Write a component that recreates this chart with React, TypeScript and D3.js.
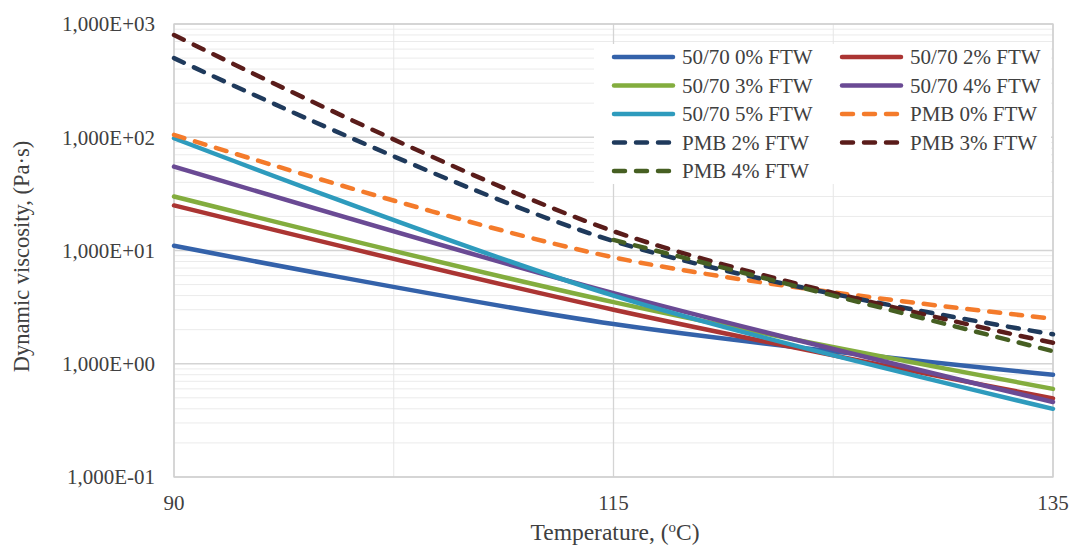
import React from "react";
import * as d3 from "d3";

const temperatures = ["90", "115", "135"];
const seriesNames = [
  "50/70 0% FTW",
  "50/70 2% FTW",
  "50/70 3% FTW",
  "50/70 4% FTW",
  "50/70 5% FTW",
  "PMB 0% FTW",
  "PMB 2% FTW",
  "PMB 3% FTW",
  "PMB 4% FTW",
];
const b0: (number | null)[] = [11, 2.24, 0.8];
const b2: (number | null)[] = [25, 3.0, 0.495];
const b3: (number | null)[] = [30, 3.5, 0.6];
const b4: (number | null)[] = [55, 4.2, 0.46];
const b5: (number | null)[] = [98, 4.0, 0.4];
const p0: (number | null)[] = [105, 8.7, 2.5];
const p2: (number | null)[] = [500, 12.1, 1.82];
const p3: (number | null)[] = [800, 14.8, 1.53];
const p4: (number | null)[] = [null, 12.4, 1.29];
const seriesValues = [b0, b2, b3, b4, b5, p0, p2, p3, p4];
const seriesColors = [
  "#3462aa",
  "#ab3533",
  "#83ad3e",
  "#6a4a94",
  "#2e9bbd",
  "#f47b2b",
  "#1f3a5c",
  "#5a1c1a",
  "#465f22",
];
const seriesDashed = [false, false, false, false, false, true, true, true, true];
const yTickValues = [0.1, 1, 10, 100, 1000];
const yTickLabels = ["1,000E-01", "1,000E+00", "1,000E+01", "1,000E+02", "1,000E+03"];

const W = 1070;
const H = 547;
const L = 174;
const R = 1053;
const T = 24;
const B = 477;
const FONT = "'Liberation Serif', 'Times New Roman', serif";

export default function App() {
  const x = d3.scalePoint<string>().domain(temperatures).range([L, R]);
  const y = d3.scaleLog().domain([0.1, 1000]).range([B, T]);

  const minorY: number[] = [];
  for (let e = -1; e < 3; e++) {
    for (let k = 2; k <= 9; k++) minorY.push(k * Math.pow(10, e));
  }
  const xs = temperatures.map((t) => x(t) as number);
  const minorX: number[] = [];
  for (let i = 0; i < xs.length - 1; i++) minorX.push((xs[i] + xs[i + 1]) / 2);

  const line = d3
    .line<number | null>()
    .defined((d) => d != null)
    .x((_, i) => x(temperatures[i]) as number)
    .y((d) => y(d as number))
    .curve(d3.curveCatmullRom.alpha(0.5));

  const legendCols = [612, 840];
  const legendRowY = [57, 85.5, 114, 142.5, 171];

  return (
    <svg
      width={W}
      height={H}
      style={{ position: "absolute", left: 0, top: 0, display: "block", background: "#fff" }}
      fontFamily={FONT}
    >
      <rect x={0} y={0} width={W} height={H} fill="#fff" />
      {minorY.map((v, i) => (
        <line key={"my" + i} x1={L} x2={R} y1={y(v)} y2={y(v)} stroke="#ebebeb" strokeWidth={1} />
      ))}
      {minorX.map((v, i) => (
        <line key={"mx" + i} x1={v} x2={v} y1={T} y2={B} stroke="#e6e6e6" strokeWidth={1} />
      ))}
      {yTickValues.map((v, i) => (
        <line key={"gy" + i} x1={L} x2={R} y1={y(v)} y2={y(v)} stroke="#d4d4d4" strokeWidth={1.3} />
      ))}
      {xs.map((v, i) => (
        <line key={"gx" + i} x1={v} x2={v} y1={T} y2={B} stroke="#d4d4d4" strokeWidth={1.3} />
      ))}
      <rect x={L} y={T} width={R - L} height={B - T} fill="none" stroke="#d0d0d0" strokeWidth={1.3} />

      {seriesValues.map((vals, i) => (
        <path
          key={"s" + i}
          d={line(vals) || ""}
          fill="none"
          stroke={seriesColors[i]}
          strokeWidth={4.5}
          strokeLinecap="round"
          strokeLinejoin="round"
          strokeDasharray={seriesDashed[i] ? "11 11" : undefined}
        />
      ))}

      {yTickValues.map((v, i) => (
        <text
          key={"yt" + i}
          x={155}
          y={y(v)}
          dy="0.35em"
          textAnchor="end"
          fontSize={21}
          fill="#404040"
        >
          {yTickLabels[i]}
        </text>
      ))}
      {temperatures.map((t, i) => (
        <text
          key={"xt" + i}
          x={x(t) as number}
          y={503}
          dy="0.35em"
          textAnchor="middle"
          fontSize={21}
          fill="#404040"
        >
          {t}
        </text>
      ))}

      <text
        transform={`translate(29, ${(T + B) / 2 + 6}) rotate(-90)`}
        textAnchor="middle"
        fontSize={22.5}
        fill="#404040"
      >
        Dynamic viscosity, (Pa·s)
      </text>
      <text x={615} y={540} textAnchor="middle" fontSize={23.5} fill="#404040">
        Temperature, (<tspan fontSize={15} dy={-8}>o</tspan>
        <tspan dy={8}>C)</tspan>
      </text>

      <rect x={594} y={44} width={457} height={140} fill="#fff" />
      {seriesNames.map((name, i) => {
        const col = i % 2;
        const row = Math.floor(i / 2);
        const lx = legendCols[col];
        const ly = legendRowY[row];
        return (
          <g key={"lg" + i}>
            <line
              x1={lx + 2}
              x2={lx + 61}
              y1={ly}
              y2={ly}
              stroke={seriesColors[i]}
              strokeWidth={4.5}
              strokeLinecap="round"
              strokeDasharray={seriesDashed[i] ? "11 11" : undefined}
            />
            <text x={lx + 70} y={ly} dy="0.35em" fontSize={21} fill="#404040">
              {name}
            </text>
          </g>
        );
      })}
    </svg>
  );
}
